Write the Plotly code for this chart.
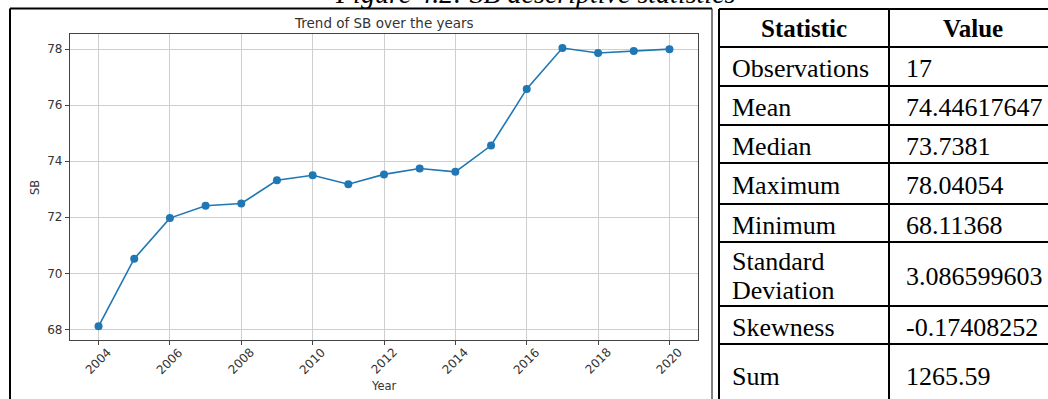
import plotly.graph_objects as go

# ---------------- data ----------------
years = [2004, 2005, 2006, 2007, 2008, 2009, 2010, 2011, 2012,
         2013, 2014, 2015, 2016, 2017, 2018, 2019, 2020]
sb_values = [68.11, 70.52, 71.97, 72.41, 72.49, 73.32, 73.50, 73.18, 73.53,
             73.74, 73.62, 74.56, 76.58, 78.04, 77.86, 77.93, 78.00]
x_ticks = [2004, 2006, 2008, 2010, 2012, 2014, 2016, 2018, 2020]
y_ticks = [68, 70, 72, 74, 76, 78]

chart_title = "Trend of SB over the years"
x_label = "Year"
y_label = "SB"
caption = "Figure 4.2: SB descriptive statistics"

table_header = ["Statistic", "Value"]
stat_names = ["Observations", "Mean", "Median", "Maximum", "Minimum",
              "Standard<br>Deviation", "Skewness", "Sum"]
stat_values = ["17", "74.44617647", "73.7381", "78.04054", "68.11368",
               "3.086599603", "-0.17408252", "1265.59"]

# ---------------- layout constants (pixels) ----------------
W, H = 1048, 399
def px_x(x):
    return x / W
def px_y(y):
    return 1 - y / H

plot_l, plot_r, plot_t, plot_b = 70, 698, 34, 340
tick_font = dict(family="DejaVu Sans", size=12, color="#333333")
label_font = dict(family="DejaVu Sans", size=11.5, color="#333333")

fig = go.Figure()
fig.add_trace(go.Scatter(
    x=years, y=sb_values, mode="lines+markers",
    line=dict(color="#1f77b4", width=1.6),
    marker=dict(color="#1f77b4", size=8),
    showlegend=False, hoverinfo="x+y",
))

fig.update_layout(
    width=W, height=H, autosize=False,
    margin=dict(l=0, r=0, t=0, b=0),
    paper_bgcolor="white", plot_bgcolor="white",
    xaxis=dict(
        domain=[px_x(plot_l), px_x(plot_r)],
        range=[2003.2, 2020.8],
        tickvals=x_ticks, showticklabels=False,
        ticks="outside", ticklen=4, tickcolor="#444444",
        showgrid=True, gridcolor="#cfcfcf", gridwidth=1,
        showline=True, linecolor="#444444", linewidth=1.3, mirror=True,
        zeroline=False,
    ),
    yaxis=dict(
        domain=[px_y(plot_b), px_y(plot_t)],
        range=[67.62, 78.54],
        tickvals=y_ticks, tickfont=tick_font,
        ticks="outside", ticklen=4, tickcolor="#444444",
        showgrid=True, gridcolor="#cfcfcf", gridwidth=1,
        showline=True, linecolor="#444444", linewidth=1.3, mirror=True,
        zeroline=False,
    ),
)

annotations = []
# rotated x tick labels, positioned through the x axis scale
for yr in x_ticks:
    annotations.append(dict(
        x=yr, xref="x", y=px_y(361), yref="paper",
        text=str(yr), textangle=-45, showarrow=False,
        xanchor="center", yanchor="middle", font=tick_font,
    ))
# title and axis labels
annotations.append(dict(x=px_x(384), y=px_y(23), xref="paper", yref="paper",
                        text=chart_title, showarrow=False, xanchor="center", yanchor="middle",
                        font=dict(family="DejaVu Sans", size=13.5, color="#333333")))
annotations.append(dict(x=px_x(384), y=px_y(386), xref="paper", yref="paper",
                        text=x_label, showarrow=False, xanchor="center", yanchor="middle",
                        font=label_font))
annotations.append(dict(x=px_x(35), y=px_y(188), xref="paper", yref="paper",
                        text=y_label, textangle=-90, showarrow=False,
                        xanchor="center", yanchor="middle", font=label_font))
# caption (cut off at the top, as in the source page)
annotations.append(dict(x=px_x(535), y=px_y(-6), xref="paper", yref="paper",
                        text="<i>" + caption + "</i>", showarrow=False,
                        xanchor="center", yanchor="middle",
                        font=dict(family="Liberation Serif", size=28, color="black")))

# ---------------- table ----------------
tab_l, tab_mid, tab_r = 719, 889, 1056
row_lines = [9, 47, 86, 125, 163, 204, 242, 306, 344, 404]
serif = dict(family="Liberation Serif", size=26, color="black")
serif_b = dict(family="Liberation Serif", size=25, color="black")

shapes = []
line_style = dict(color="black", width=2)
for y in row_lines:
    shapes.append(dict(type="line", xref="paper", yref="paper",
                       x0=px_x(tab_l), x1=px_x(tab_r), y0=px_y(y), y1=px_y(y),
                       line=line_style))
for x in [tab_l, tab_mid, tab_r]:
    shapes.append(dict(type="line", xref="paper", yref="paper",
                       x0=px_x(x), x1=px_x(x), y0=px_y(row_lines[0]), y1=px_y(row_lines[-1]),
                       line=line_style))
# outer frame around the chart image
shapes.append(dict(type="line", xref="paper", yref="paper",
                   x0=px_x(10), x1=px_x(712), y0=px_y(8.5), y1=px_y(8.5), line=line_style))
shapes.append(dict(type="line", xref="paper", yref="paper",
                   x0=px_x(10), x1=px_x(10), y0=px_y(8.5), y1=px_y(405), line=line_style))
shapes.append(dict(type="line", xref="paper", yref="paper",
                   x0=px_x(712), x1=px_x(712), y0=px_y(8.5), y1=px_y(405),
                   line=dict(color="black", width=1)))

# header
hy = (row_lines[0] + row_lines[1]) / 2 + 1
annotations.append(dict(x=px_x((tab_l + tab_mid) / 2), y=px_y(hy), xref="paper", yref="paper",
                        text="<b>" + table_header[0] + "</b>", showarrow=False,
                        xanchor="center", yanchor="middle", font=serif_b))
annotations.append(dict(x=px_x(973), y=px_y(hy), xref="paper", yref="paper",
                        text="<b>" + table_header[1] + "</b>", showarrow=False,
                        xanchor="center", yanchor="middle", font=serif_b))
line_gap = 29
for i, (name, val) in enumerate(zip(stat_names, stat_values)):
    top, bot = row_lines[i + 1], row_lines[i + 2]
    cy = (top + min(bot, 406)) / 2 + 2
    parts = name.split("<br>")
    n = len(parts)
    for k, part in enumerate(parts):
        ly = cy + (k - (n - 1) / 2) * line_gap
        annotations.append(dict(x=px_x(730), y=px_y(ly), xref="paper", yref="paper",
                                text=part, showarrow=False, align="left",
                                xanchor="left", yanchor="middle", font=serif))
    annotations.append(dict(x=px_x(904), y=px_y(cy), xref="paper", yref="paper",
                            text=val, showarrow=False, align="left",
                            xanchor="left", yanchor="middle", font=serif))

fig.update_layout(annotations=annotations, shapes=shapes)
fig.write_html("out.html")
